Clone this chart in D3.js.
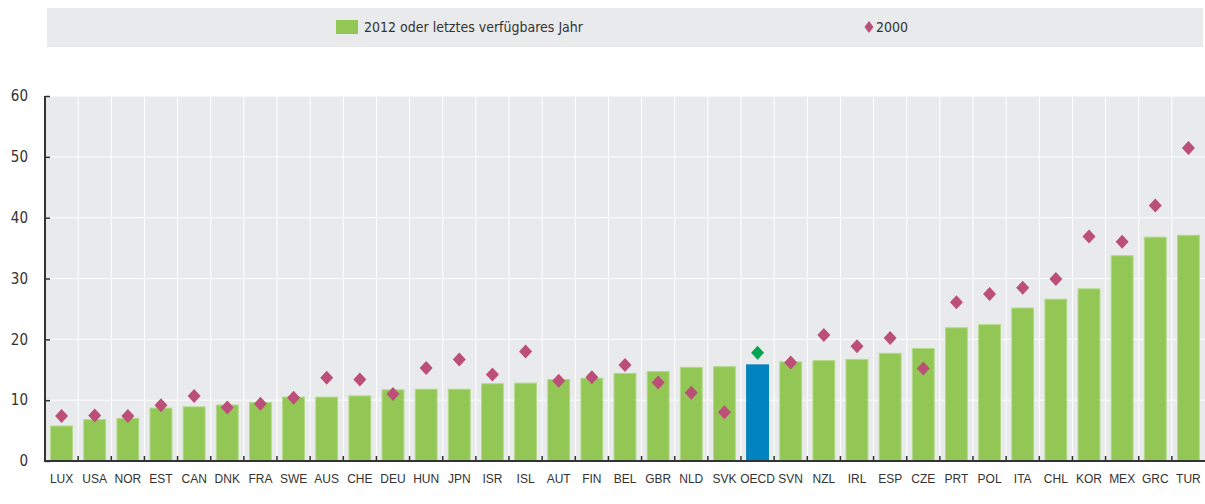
<!DOCTYPE html>
<html>
<head>
<meta charset="utf-8">
<script src="https://cdn.jsdelivr.net/npm/d3@7"></script>
<style>
  body { margin: 0; background: #fff; }
</style>
</head>
<body>
<div id="chart"></div>
<script>
// data
var countries = ["LUX","USA","NOR","EST","CAN","DNK","FRA","SWE","AUS","CHE","DEU","HUN","JPN","ISR","ISL","AUT","FIN","BEL","GBR","NLD","SVK","OECD","SVN","NZL","IRL","ESP","CZE","PRT","POL","ITA","CHL","KOR","MEX","GRC","TUR"];
var latest = [5.75,6.8,7.0,8.7,8.9,9.2,9.6,10.5,10.5,10.7,11.7,11.8,11.8,12.7,12.8,13.4,13.6,14.4,14.7,15.4,15.5,15.8,16.3,16.5,16.7,17.7,18.5,21.9,22.4,25.15,26.6,28.3,33.75,36.8,37.1];
var y2000 = [7.4,7.5,7.4,9.15,10.7,8.8,9.4,10.4,13.7,13.4,11.0,15.3,16.7,14.2,18.0,13.2,13.75,15.8,12.9,11.2,8.0,17.8,16.2,20.7,18.85,20.2,15.2,26.1,27.45,28.5,29.9,36.9,36.05,42.0,51.45];
var yTicks = [0,10,20,30,40,50,60];
var legendLabels = ["2012 oder letztes verfügbares Jahr","2000"];

var W = 1205, H = 504;
var margin = {top: 96, right: 0, bottom: 43, left: 45};
var width = W - margin.left - margin.right;
var height = H - margin.top - margin.bottom;
var narrow = "'Liberation Sans Narrow','DejaVu Sans Condensed',sans-serif";

var svg = d3.select("#chart").append("svg")
    .attr("width", W)
    .attr("height", H);

// legend strip
var legend = svg.append("g");
legend.append("rect")
    .attr("x", 47).attr("y", 8)
    .attr("width", 1156).attr("height", 39)
    .attr("fill", "#e9eaec");
legend.append("rect")
    .attr("x", 336).attr("y", 20)
    .attr("width", 22).attr("height", 14)
    .attr("fill", "#92c755");
legend.append("text")
    .attr("x", 364).attr("y", 32)
    .attr("fill", "#333")
    .style("font-family", narrow)
    .style("font-size", "14px")
    .text(legendLabels[0]);
legend.append("path")
    .attr("d", "M0,-6L4.5,0L0,6L-4.5,0Z")
    .attr("transform", "translate(869,27)")
    .attr("fill", "#bb4f77");
legend.append("text")
    .attr("x", 876).attr("y", 32)
    .attr("fill", "#333")
    .style("font-family", narrow)
    .style("font-size", "14px")
    .text(legendLabels[1]);

var g = svg.append("g")
    .attr("transform", "translate(" + margin.left + "," + margin.top + ")");

var xScale = d3.scaleBand().domain(countries).range([0, width])
    .paddingInner(0.34).paddingOuter(0.17);
var yScale = d3.scaleLinear().domain([0, 60]).range([height, 0]);
var step = xScale.step();

g.append("rect")
    .attr("width", width).attr("height", height)
    .attr("fill", "#e9eaec");

// grid
g.selectAll(".hgrid").data(yTicks.slice(1))
    .enter().append("line")
    .attr("x1", 0).attr("x2", width)
    .attr("y1", function(d){ return yScale(d); })
    .attr("y2", function(d){ return yScale(d); })
    .attr("stroke", "#fff").attr("stroke-width", 1);
g.selectAll(".vgrid").data(countries.slice(1))
    .enter().append("line")
    .attr("x1", function(d){ return xScale(d) - step * 0.17; })
    .attr("x2", function(d){ return xScale(d) - step * 0.17; })
    .attr("y1", 0).attr("y2", height)
    .attr("stroke", "#fff").attr("stroke-width", 1);

// bars
g.selectAll(".bar").data(countries)
    .enter().append("rect")
    .attr("x", function(d){ return xScale(d); })
    .attr("width", xScale.bandwidth())
    .attr("y", function(d,i){ return yScale(latest[i]); })
    .attr("height", function(d,i){ return height - yScale(latest[i]); })
    .attr("fill", function(d){ return d == "OECD" ? "#0083be" : "#92c755"; })
    .attr("stroke", function(d){ return d == "OECD" ? "#0083be" : "#b3d98a"; })
    .attr("stroke-width", 1);

// diamonds
g.selectAll(".dot").data(countries)
    .enter().append("path")
    .attr("d", "M0,-7L6.5,0L0,7L-6.5,0Z")
    .attr("transform", function(d,i){
        return "translate(" + (xScale(d) + xScale.bandwidth()/2) + "," + yScale(y2000[i]) + ")";
    })
    .attr("fill", function(d){ return d == "OECD" ? "#00a651" : "#bb4f77"; });

// axes
var yAxis = d3.axisLeft(yScale).tickValues(yTicks).tickSize(-5).tickPadding(17);
var ya = g.append("g").call(yAxis);
ya.select(".domain").remove();
ya.selectAll("line").attr("stroke", "#333").attr("stroke-width", 1.5);
ya.selectAll("text")
    .style("font-family", narrow)
    .style("font-size", "15px")
    .attr("fill", "#333");

g.selectAll(".xtick").data(countries.slice(1))
    .enter().append("line")
    .attr("x1", function(d){ return xScale(d) - step * 0.17; })
    .attr("x2", function(d){ return xScale(d) - step * 0.17; })
    .attr("y1", height - 5).attr("y2", height)
    .attr("stroke", "#333").attr("stroke-width", 1.5);

g.append("line")
    .attr("x1", 0).attr("x2", 0).attr("y1", 0).attr("y2", height)
    .attr("stroke", "#333").attr("stroke-width", 2);
g.append("line")
    .attr("x1", -1).attr("x2", width).attr("y1", height).attr("y2", height)
    .attr("stroke", "#333").attr("stroke-width", 2);

// country labels (the renderer draws text unrotated, so keep them level and centred)
g.selectAll(".xlabel").data(countries)
    .enter().append("text")
    .attr("class", "xlabel")
    .attr("x", function(d){ return xScale(d) + xScale.bandwidth()/2; })
    .attr("y", height + 22)
    .attr("text-anchor", "middle")
    .attr("fill", "#333")
    .style("font-family", "'Liberation Sans',Arial,sans-serif")
    .style("font-size", "12px")
    .text(function(d){ return d; });
</script>
</body>
</html>
